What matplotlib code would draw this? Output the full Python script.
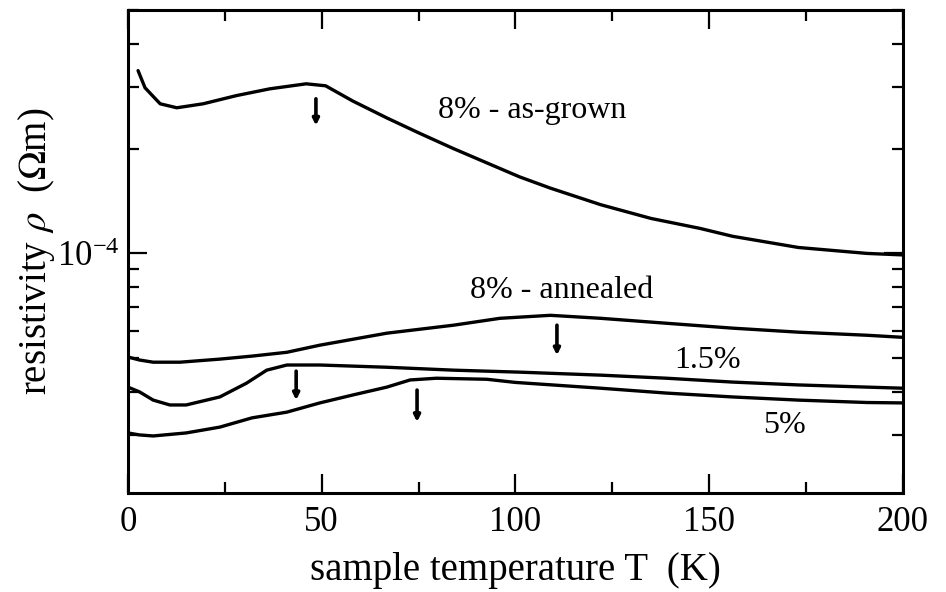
import numpy as np
import matplotlib
matplotlib.use("Agg")
import matplotlib.pyplot as plt
from matplotlib.ticker import LogLocator, NullFormatter, MultipleLocator

plt.rcParams['font.family'] = ['Liberation Serif', 'DejaVu Serif']
plt.rcParams['mathtext.fontset'] = 'stix'

# sample temperature T (K) and resistivity (1e-4 Ohm m)
T_asgrown = [2.6, 4.4, 8.3, 12.6, 19.4, 28, 36.6, 46, 51, 58, 66.8, 75, 84,
             92.6, 101, 109, 122, 135, 147.6, 156, 173, 190.7, 200]
rho_asgrown = [3.35, 2.99, 2.69, 2.62, 2.69, 2.84, 2.97, 3.07, 3.03, 2.74, 2.45,
               2.22, 2.00, 1.82, 1.66, 1.54, 1.38, 1.26, 1.18, 1.12, 1.04, 1.00, 0.99]

T_annealed = [0, 3, 6.5, 13.4, 23.7, 32, 41, 49.5, 66.8, 84, 96, 109, 122,
              139, 156, 173, 190.7, 200]
rho_annealed = [0.504, 0.494, 0.487, 0.487, 0.497, 0.507, 0.520, 0.545, 0.590,
                0.622, 0.651, 0.664, 0.651, 0.630, 0.610, 0.594, 0.582, 0.574]

T_15 = [0, 3, 6.5, 10.8, 15, 23.7, 30.6, 35.8, 41, 49.5, 66.8, 84, 101, 122,
        139, 156, 173, 190.7, 200]
rho_15 = [0.413, 0.400, 0.379, 0.367, 0.367, 0.387, 0.424, 0.462, 0.478, 0.478,
          0.471, 0.462, 0.456, 0.447, 0.438, 0.427, 0.419, 0.413, 0.410]

T_5 = [0, 3, 6.5, 15, 23.7, 32, 41, 49.5, 58, 66.8, 72.8, 79.6, 92.6, 100,
       122, 139, 156, 173, 190.7, 200]
rho_5 = [0.305, 0.301, 0.299, 0.305, 0.317, 0.337, 0.350, 0.372, 0.392, 0.413,
         0.433, 0.438, 0.435, 0.426, 0.410, 0.397, 0.387, 0.379, 0.373, 0.372]

# transition arrows: (T, top, bottom) in units of 1e-4 Ohm m
arrows = [(48.5, 2.78, 2.33), (110.7, 0.622, 0.510),
          (43.4, 0.459, 0.379), (74.6, 0.405, 0.328)]

labels = ['8% - as-grown', '8% - annealed', '1.5%', '5%']
label_pos = [(80, 2.57), (88.3, 0.783), (141, 0.494), (163.9, 0.321)]

fig = plt.figure(figsize=(9.46, 5.92), dpi=100)
ax = fig.add_axes([0.1353, 0.1672, 0.8192, 0.8158])

for T, rho in [(T_asgrown, rho_asgrown), (T_annealed, rho_annealed),
               (T_15, rho_15), (T_5, rho_5)]:
    ax.plot(T, np.array(rho) * 1e-4, color='black', lw=2.4,
            solid_joinstyle='round', solid_capstyle='round')

for t, top, bot in arrows:
    ax.annotate('', xy=(t, bot * 1e-4), xytext=(t, top * 1e-4),
                arrowprops=dict(arrowstyle='-|>', lw=2.6, color='black',
                                mutation_scale=9, shrinkA=0, shrinkB=0))

for txt, (x, y) in zip(labels, label_pos):
    ax.text(x, y * 1e-4, txt, fontsize=23, ha='left', va='center')

ax.set_yscale('log')
ax.set_xlim(0, 200)
ax.set_ylim(2.05e-5, 5e-4)
ax.xaxis.set_major_locator(MultipleLocator(50))
ax.xaxis.set_minor_locator(MultipleLocator(25))
ax.yaxis.set_major_locator(LogLocator(base=10))
ax.yaxis.set_minor_locator(LogLocator(base=10, subs=np.arange(2, 10)))
ax.yaxis.set_minor_formatter(NullFormatter())

ax.tick_params(which='both', direction='in', top=True, right=True,
               width=1.6, labelsize=25)
ax.tick_params(which='major', length=14)
ax.tick_params(which='minor', length=8)
ax.tick_params(axis='x', pad=9)
ax.tick_params(axis='y', pad=6)
for sp in ax.spines.values():
    sp.set_linewidth(2.2)

ax.set_xlabel('sample temperature T  (K)', fontsize=28, labelpad=10)
ax.set_ylabel(r'resistivity $\rho$  ($\Omega$m)', fontsize=28, labelpad=0)

fig.savefig('out.png', dpi=100)
